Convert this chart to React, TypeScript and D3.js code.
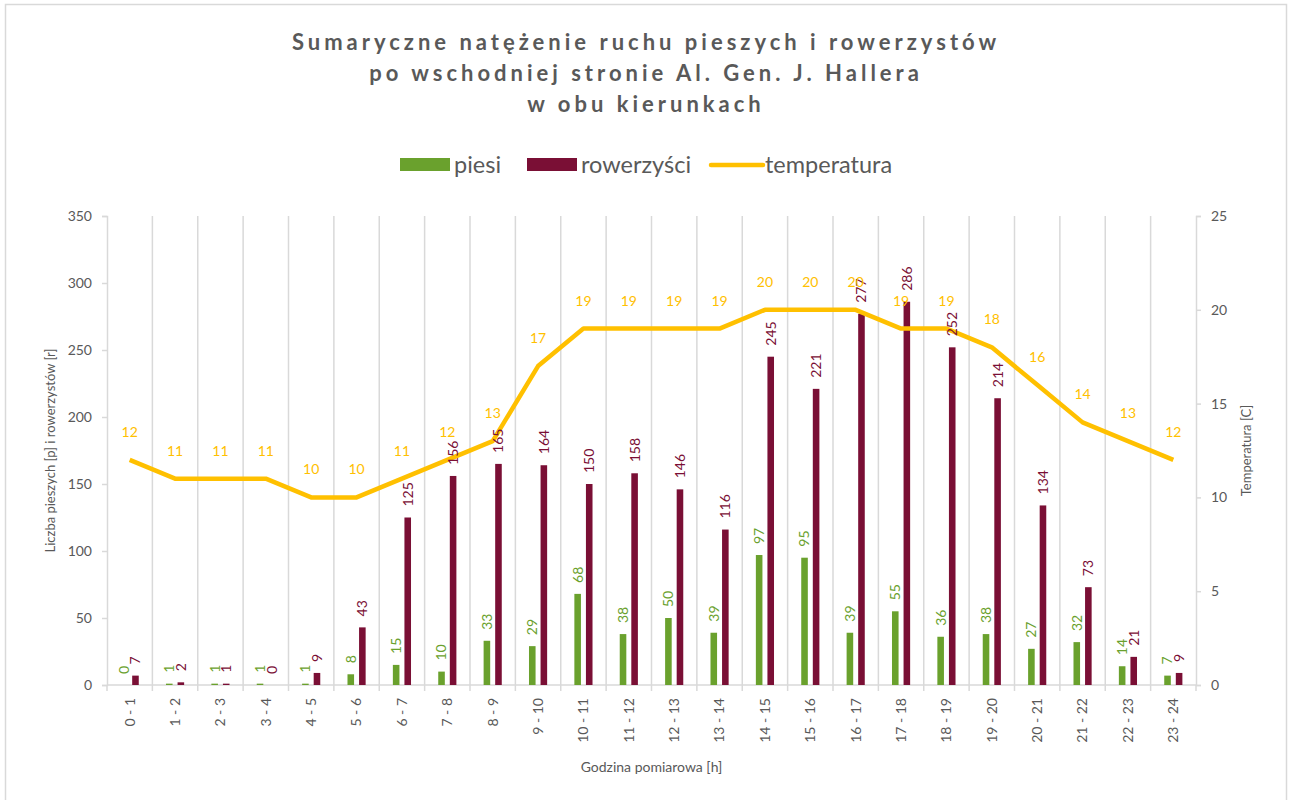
import { useEffect, useRef } from 'react';
import * as d3 from 'd3';

const hours = [
  '0 - 1', '1 - 2', '2 - 3', '3 - 4', '4 - 5', '5 - 6', '6 - 7', '7 - 8', '8 - 9', '9 - 10',
  '10 - 11', '11 - 12', '12 - 13', '13 - 14', '14 - 15', '15 - 16', '16 - 17', '17 - 18',
  '18 - 19', '19 - 20', '20 - 21', '21 - 22', '22 - 23', '23 - 24',
];
const piesi = [0, 1, 1, 1, 1, 8, 15, 10, 33, 29, 68, 38, 50, 39, 97, 95, 39, 55, 36, 38, 27, 32, 14, 7];
const rowerzysci = [7, 2, 1, 0, 9, 43, 125, 156, 165, 164, 150, 158, 146, 116, 245, 221, 277, 286, 252, 214, 134, 73, 21, 9];
const temperatura = [12, 11, 11, 11, 10, 10, 11, 12, 13, 17, 19, 19, 19, 19, 20, 20, 20, 19, 19, 18, 16, 14, 13, 12];
const leftTicks = [0, 50, 100, 150, 200, 250, 300, 350];
const rightTicks = [0, 5, 10, 15, 20, 25];
const titleLines = [
  'Sumaryczne natężenie ruchu pieszych i rowerzystów',
  'po wschodniej stronie Al. Gen. J. Hallera',
  'w obu kierunkach',
];

const GREEN = '#6aa12d';
const RED = '#7a0f35';
const YELLOW = '#ffc000';
const GRID = '#d9d9d9';
const TEXT = '#595959';
const FONT = "Lato, 'Open Sans', sans-serif";

const App = () => {
  const svgRef = useRef<SVGSVGElement | null>(null);

  const width = 1293;
  const height = 800;
  const marginLeft = 107;
  const marginRight = 97;
  const marginTop = 216;
  const marginBottom = 115;

  useEffect(() => {
    const svgElement = svgRef.current;
    if (!svgElement) return;
    const svg = d3.select(svgElement);
    svg.selectAll('*').remove();
    svg.style('font-family', FONT);

    const x = d3.scaleBand().domain(hours).range([marginLeft, width - marginRight]);
    const y = d3.scaleLinear().domain([0, 350]).range([height - marginBottom, marginTop]);
    const yT = d3.scaleLinear().domain([0, 25]).range([height - marginBottom, marginTop]);
    const bw = x.bandwidth();
    const barW = bw * 0.145;
    const gap = bw * 0.11;
    const y0 = height - marginBottom;

    // chart frame
    svg.append('rect')
      .attr('x', 5.5).attr('y', 4.5)
      .attr('width', 1281).attr('height', 820)
      .attr('fill', 'white')
      .attr('stroke', GRID).attr('stroke-width', 1.5);

    // title
    svg.append('g').selectAll('text').data(titleLines).join('text')
      .attr('x', 646)
      .attr('y', (_, i) => 50 + i * 31)
      .attr('text-anchor', 'middle')
      .attr('font-size', 22)
      .attr('font-weight', 'bold')
      .attr('letter-spacing', 4)
      .attr('fill', TEXT)
      .text(d => d);

    // legend
    const lg = svg.append('g').attr('font-size', 23.5).attr('fill', TEXT);
    lg.append('rect').attr('x', 400).attr('y', 158).attr('width', 50).attr('height', 13).attr('fill', GREEN);
    lg.append('text').attr('x', 454).attr('y', 173).text('piesi');
    lg.append('rect').attr('x', 527).attr('y', 158).attr('width', 50).attr('height', 13).attr('fill', RED);
    lg.append('text').attr('x', 581).attr('y', 173).text('rowerzyści');
    lg.append('line').attr('x1', 711).attr('x2', 763).attr('y1', 165).attr('y2', 165)
      .attr('stroke', YELLOW).attr('stroke-width', 4.5).attr('stroke-linecap', 'round');
    lg.append('text').attr('x', 765).attr('y', 173).text('temperatura');

    // vertical gridlines at category boundaries
    const bounds = d3.range(hours.length + 1).map(i => marginLeft + i * bw);
    svg.append('g').selectAll('line').data(bounds.slice(1, -1)).join('line')
      .attr('x1', d => d).attr('x2', d => d)
      .attr('y1', marginTop).attr('y2', y0)
      .attr('stroke', GRID).attr('stroke-width', 1.5);

    // left axis
    const ax = svg.append('g').attr('transform', `translate(${marginLeft},0)`)
      .call(d3.axisLeft(y).tickValues(leftTicks).tickSize(5).tickPadding(10));
    ax.select('.domain').attr('stroke', GRID).attr('stroke-width', 1.5);
    ax.selectAll('.tick line').attr('stroke', GRID).attr('stroke-width', 1.5);
    ax.selectAll('.tick text').attr('fill', TEXT).attr('font-size', 14).attr('font-family', FONT);

    // right axis
    const ar = svg.append('g').attr('transform', `translate(${width - marginRight},0)`)
      .call(d3.axisRight(yT).tickValues(rightTicks).tickSize(5).tickPadding(10));
    ar.select('.domain').attr('stroke', GRID).attr('stroke-width', 1.5);
    ar.selectAll('.tick line').attr('stroke', GRID).attr('stroke-width', 1.5);
    ar.selectAll('.tick text').attr('fill', TEXT).attr('font-size', 14).attr('font-family', FONT);

    // bottom axis
    svg.append('line')
      .attr('x1', marginLeft).attr('x2', width - marginRight)
      .attr('y1', y0).attr('y2', y0)
      .attr('stroke', GRID).attr('stroke-width', 1.5);
    svg.append('g').selectAll('line').data(bounds).join('line')
      .attr('x1', d => d).attr('x2', d => d)
      .attr('y1', y0).attr('y2', y0 + 6)
      .attr('stroke', GRID).attr('stroke-width', 1.5);
    svg.append('g').selectAll('text').data(hours).join('text')
      .attr('transform', d => `translate(${(x(d) ?? 0) + bw / 2},${y0 + 13}) rotate(-90)`)
      .attr('dy', '0.35em')
      .attr('text-anchor', 'end')
      .attr('font-size', 14)
      .attr('fill', TEXT)
      .text(d => d);

    // axis titles
    svg.append('text')
      .attr('transform', `translate(55,${(marginTop + y0) / 2}) rotate(-90)`)
      .attr('text-anchor', 'middle').attr('font-size', 13).attr('fill', TEXT)
      .text('Liczba pieszych [p] i rowerzystów [r]');
    svg.append('text')
      .attr('transform', `translate(1251,${(marginTop + y0) / 2}) rotate(-90)`)
      .attr('text-anchor', 'middle').attr('font-size', 13).attr('fill', TEXT)
      .text('Temperatura [C]');
    svg.append('text')
      .attr('x', (marginLeft + width - marginRight) / 2).attr('y', 772)
      .attr('text-anchor', 'middle').attr('font-size', 14).attr('fill', TEXT)
      .text('Godzina pomiarowa [h]');

    // bars
    const greenX = (i: number) => (x(hours[i]) ?? 0) + bw / 2 - gap / 2 - barW;
    const redX = (i: number) => (x(hours[i]) ?? 0) + bw / 2 + gap / 2;

    svg.append('g').selectAll('rect').data(piesi).join('rect')
      .attr('x', (_, i) => greenX(i)).attr('width', barW)
      .attr('y', d => y(d)).attr('height', d => y0 - y(d))
      .attr('fill', GREEN);
    svg.append('g').selectAll('rect').data(rowerzysci).join('rect')
      .attr('x', (_, i) => redX(i)).attr('width', barW)
      .attr('y', d => y(d)).attr('height', d => y0 - y(d))
      .attr('fill', RED);

    // temperature line
    const line = d3.line<number>()
      .x((_, i) => (x(hours[i]) ?? 0) + bw / 2)
      .y(d => yT(d));
    svg.append('path')
      .datum(temperatura)
      .attr('fill', 'none')
      .attr('stroke', YELLOW)
      .attr('stroke-width', 4.5)
      .attr('stroke-linejoin', 'round')
      .attr('d', line);

    // bar labels
    svg.append('g').selectAll('text').data(piesi).join('text')
      .attr('transform', (d, i) => `translate(${greenX(i) + barW / 2},${y(d) - 11}) rotate(-90)`)
      .attr('dy', '0.35em')
      .attr('font-size', 14).attr('fill', GREEN)
      .text(d => d);
    svg.append('g').selectAll('text').data(rowerzysci).join('text')
      .attr('transform', (d, i) => `translate(${redX(i) + barW / 2},${y(d) - 11}) rotate(-90)`)
      .attr('dy', '0.35em')
      .attr('font-size', 14).attr('fill', RED)
      .text(d => d);

    // temperature labels
    svg.append('g').selectAll('text').data(temperatura).join('text')
      .attr('x', (_, i) => (x(hours[i]) ?? 0) + bw / 2)
      .attr('y', d => yT(d) - 23)
      .attr('text-anchor', 'middle')
      .attr('font-size', 14).attr('fill', YELLOW)
      .text(d => d);
  }, []);

  return (
    <svg
      ref={svgRef}
      width={width}
      height={height}
      style={{ position: 'absolute', left: 0, top: 0, display: 'block' }}
    />
  );
};

export default App;
